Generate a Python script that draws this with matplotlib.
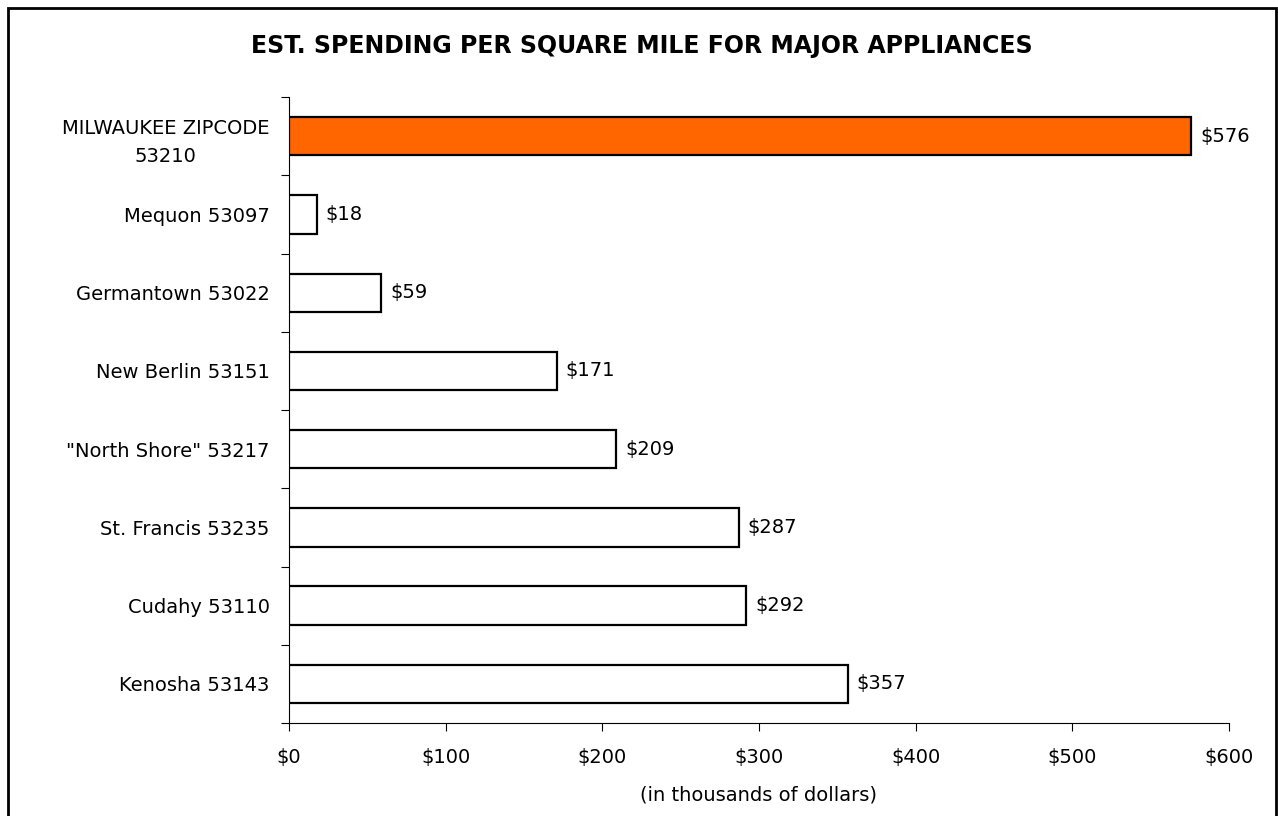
import matplotlib.pyplot as plt
import matplotlib.ticker as ticker
from matplotlib.patches import Rectangle

# Dados (em milhares de dólares)
locais = ['MILWAUKEE ZIPCODE\n53210', 'Mequon 53097', 'Germantown 53022',
          'New Berlin 53151', '"North Shore" 53217', 'St. Francis 53235',
          'Cudahy 53110', 'Kenosha 53143']
gastos = [576, 18, 59, 171, 209, 287, 292, 357]
cores = ['#FF6600'] + ['white'] * 7

plt.rcParams['font.family'] = ['DejaVu Sans']

fig = plt.figure(figsize=(12.78, 8.16), dpi=100)
ax = fig.add_axes([0.2261, 0.114, 0.7355, 0.767])

pos = list(range(len(locais)))
ax.barh(pos, gastos, height=0.49, color=cores, edgecolor='black', linewidth=1.6, zorder=3)

ax.set_ylim(len(locais) - 0.5, -0.5)
ax.set_xlim(0, 600)

# Rótulos de valor
for y, v in zip(pos, gastos):
    ax.text(v + 5.5, y, f'${v}', va='center', ha='left', fontsize=14)

# Eixo Y: rótulos nas categorias, ticks nas divisões
ax.set_yticks(pos)
ax.set_yticklabels(locais, fontsize=14, ha='right', multialignment='center', linespacing=1.6)
ax.tick_params(axis='y', which='major', length=0, pad=14)
ax.set_yticks([p - 0.5 for p in pos] + [len(locais) - 0.5], minor=True)
ax.tick_params(axis='y', which='minor', length=6, width=0.8)

# Eixo X
ax.xaxis.set_major_locator(ticker.MultipleLocator(100))
ax.xaxis.set_major_formatter(ticker.FuncFormatter(lambda x, p: f'${int(x)}'))
ax.tick_params(axis='x', length=6, width=0.8, labelsize=14, pad=12)
ax.set_xlabel('(in thousands of dollars)', fontsize=14, labelpad=13)

for s in ['top', 'right']:
    ax.spines[s].set_visible(False)
ax.spines['left'].set_linewidth(0.8)
ax.spines['bottom'].set_linewidth(0.8)

fig.text(0.502, 0.944, 'EST. SPENDING PER SQUARE MILE FOR MAJOR APPLIANCES',
         ha='center', va='center', fontsize=17, fontweight='bold')

# Moldura externa
fig.patches.append(Rectangle((8 / 1278, -0.05), 1268 / 1278, 1.05 - 8 / 816,
                             transform=fig.transFigure, fill=False,
                             edgecolor='black', linewidth=2))

fig.savefig('out.png', dpi=100)
